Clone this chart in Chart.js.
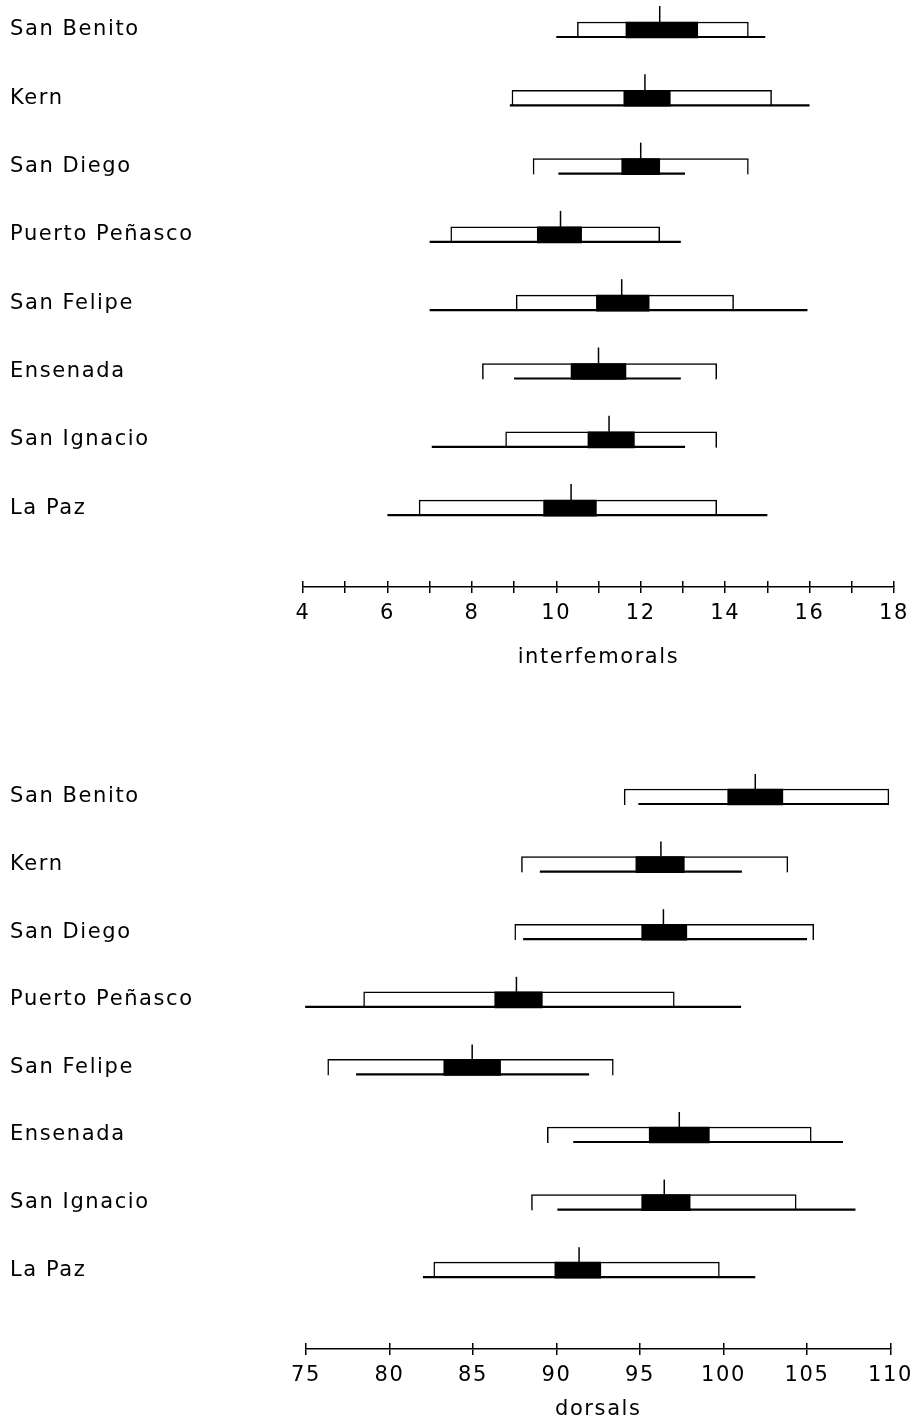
<!DOCTYPE html>
<html>
<head>
<meta charset="utf-8">
<script src="https://cdn.jsdelivr.net/npm/chart.js@4.4.1/dist/chart.umd.min.js"></script>
<style>
  html, body { margin: 0; padding: 0; background: #fff; }
  canvas { display: block; }
</style>
</head>
<body>
<canvas id="interfemorals" width="921" height="680"></canvas>
<canvas id="dorsals" width="921" height="744"></canvas>
<script>
const sites = ['San Benito', 'Kern', 'San Diego', 'Puerto Peñasco', 'San Felipe', 'Ensenada', 'San Ignacio', 'La Paz'];

// interfemoral scale counts
const ifRangeMin = [10.0, 8.9, 10.05, 7.0, 7.0, 9.0, 7.05, 6.0];
const ifRangeMax = [14.95, 16.0, 13.05, 12.95, 15.95, 12.95, 13.05, 15.0];
const ifSdLow = [10.5, 8.95, 9.45, 7.5, 9.05, 8.25, 8.8, 6.75];
const ifSdHigh = [14.55, 15.1, 14.55, 12.45, 14.2, 13.8, 13.8, 13.8];
const ifSeLow = [11.65, 11.6, 11.55, 9.55, 10.95, 10.35, 10.75, 9.7];
const ifSeHigh = [13.35, 12.7, 12.45, 10.6, 12.2, 11.65, 11.85, 10.95];
const ifMean = [12.45, 12.1, 12.0, 10.1, 11.55, 11.0, 11.25, 10.35];

// dorsal scale counts
const dRangeMin = [94.9, 89.0, 88.0, 74.95, 78.0, 91.0, 90.05, 82.0];
const dRangeMax = [109.9, 101.1, 105.0, 101.05, 91.95, 107.15, 107.9, 101.9];
const dSdLow = [94.05, 87.9, 87.5, 78.45, 76.3, 89.45, 88.5, 82.65];
const dSdHigh = [109.9, 103.85, 105.4, 97.05, 93.4, 105.25, 104.35, 99.75];
const dSeLow = [100.25, 94.75, 95.1, 86.3, 83.25, 95.55, 95.1, 89.9];
const dSeHigh = [103.55, 97.65, 97.8, 89.15, 86.65, 99.15, 98.0, 92.65];
const dMean = [101.9, 96.25, 96.4, 87.6, 84.95, 97.35, 96.45, 91.35];

const INK = '#000';
const FONT = { family: 'DejaVu Sans', size: 21 };

// range line under each box and the mean tick above it
const diceMarks = {
    id: 'diceMarks',
    beforeLayout: (chart) => { chart.ctx.letterSpacing = '1.6px'; },
    beforeDraw: (chart) => { chart.ctx.letterSpacing = '1.6px'; },
    afterDatasetsDraw(chart, args, opts) {
        const { ctx, scales: { x, y } } = chart;
        const half = opts.boxHeight / 2;
        ctx.save();
        ctx.strokeStyle = INK;
        opts.rangeMin.forEach((lo, i) => {
            const yc = y.getPixelForValue(i);
            ctx.lineWidth = 2.2;
            ctx.beginPath();
            ctx.moveTo(x.getPixelForValue(lo), yc + half - 1);
            ctx.lineTo(x.getPixelForValue(opts.rangeMax[i]), yc + half - 1);
            ctx.stroke();

            const xm = x.getPixelForValue(opts.mean[i]);
            ctx.lineWidth = 1.5;
            ctx.beginPath();
            ctx.moveTo(xm, yc - half);
            ctx.lineTo(xm, yc - half - opts.tickHeight);
            ctx.stroke();
        });
        ctx.restore();
    }
};

const diceChart = (canvasId, c) => {
    const axisGrid = { drawOnChartArea: false, tickLength: 6, color: INK, lineWidth: 1.5 };
    return new Chart(document.getElementById(canvasId), {
        type: 'bar',
        data: {
            datasets: [
                {
                    data: sites.map((_, i) => ({ y: i, x: [c.seLow[i], c.seHigh[i]] })),
                    backgroundColor: INK,
                    borderWidth: 0,
                    grouped: false,
                    barThickness: 16,
                    xAxisID: 'x'
                },
                {
                    data: sites.map((_, i) => ({ y: i, x: [c.sdLow[i], c.sdHigh[i]] })),
                    backgroundColor: '#fff',
                    borderColor: INK,
                    borderWidth: 1.5,
                    borderSkipped: 'bottom',
                    grouped: false,
                    barThickness: 16,
                    xAxisID: 'x'
                }
            ]
        },
        options: {
            indexAxis: 'y',
            responsive: false,
            animation: false,
            events: [],
            layout: { padding: { left: 10, right: 27, top: 0, bottom: c.padBottom } },
            plugins: {
                legend: { display: false },
                tooltip: { enabled: false },
                diceMarks: { rangeMin: c.rangeMin, rangeMax: c.rangeMax, mean: c.mean, boxHeight: 16, tickHeight: c.tickHeight }
            },
            scales: {
                y: {
                    type: 'linear',
                    reverse: true,
                    offset: false,
                    min: c.yMin,
                    max: c.yMax,
                    grid: { display: false },
                    border: { display: false },
                    afterBuildTicks: (s) => { s.ticks = sites.map((_, i) => ({ value: i })); },
                    afterFit: (s) => { s.width = c.labelWidth; s.paddingTop = 0; s.paddingBottom = 0; },
                    ticks: { autoSkip: false, crossAlign: 'far', padding: 0, color: INK, font: FONT, callback: (v) => sites[v] }
                },
                xUp: {
                    type: 'linear',
                    axis: 'x',
                    position: 'bottom',
                    weight: 0,
                    min: c.xMin,
                    max: c.xMax,
                    ticks: { display: false, stepSize: c.step },
                    border: { display: false },
                    grid: axisGrid
                },
                x: {
                    type: 'linear',
                    position: 'bottom',
                    weight: 1,
                    min: c.xMin,
                    max: c.xMax,
                    ticks: { stepSize: c.step, autoSkip: false, maxRotation: 0, padding: 8, color: INK, font: FONT, callback: c.tickLabel },
                    border: { display: true, color: INK, width: 1.5 },
                    grid: axisGrid,
                    title: { display: true, text: c.title, color: INK, font: FONT, padding: { top: c.titlePadTop, bottom: 0 } }
                }
            }
        },
        plugins: [diceMarks]
    });
};

diceChart('interfemorals', {
    seLow: ifSeLow, seHigh: ifSeHigh, sdLow: ifSdLow, sdHigh: ifSdHigh,
    rangeMin: ifRangeMin, rangeMax: ifRangeMax, mean: ifMean,
    xMin: 4, xMax: 18, step: 1,
    tickLabel: (v) => (v % 2 === 0 ? v : ''),
    title: 'interfemorals',
    yMin: -0.439, yMax: 8.067,
    labelWidth: 293, padBottom: 9.4, titlePadTop: 11.2, tickHeight: 16
});

diceChart('dorsals', {
    seLow: dSeLow, seHigh: dSeHigh, sdLow: dSdLow, sdHigh: dSdHigh,
    rangeMin: dRangeMin, rangeMax: dRangeMax, mean: dMean,
    xMin: 75, xMax: 110, step: 5,
    tickLabel: (v) => v,
    title: 'dorsals',
    yMin: -1.731, yMax: 8.077,
    labelWidth: 296, padBottom: 1.4, titlePadTop: 1.2, tickHeight: 15
});
</script>
</body>
</html>
